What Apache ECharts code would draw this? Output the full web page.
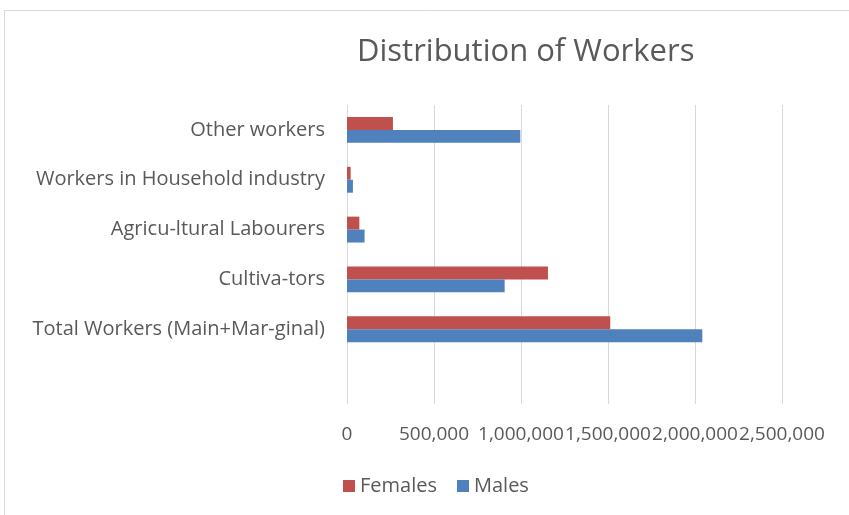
<!DOCTYPE html>
<html><head><meta charset="utf-8">
<script src="https://cdn.jsdelivr.net/npm/echarts@6/dist/echarts.min.js"></script>
<style>html,body{margin:0;padding:0;background:#fff}#c{width:849px;height:515px}</style>
</head><body><div id="c"></div>
<script>
var categories = ["", "Total Workers (Main+Mar-ginal)", "Cultiva-tors", "Agricu-ltural Labourers", "Workers in Household industry", "Other workers"];
var females = [null, 1513000, 1155000, 71000, 21000, 264000];
var males = [null, 2042000, 906000, 101000, 34000, 996000];
var tickMin = 0, tickMax = 2500000, tickStep = 500000;

var FONT = "Open Sans";
var chart = echarts.init(document.getElementById('c'));
chart.setOption({
  animation: false,
  textStyle: {fontFamily: FONT},
  graphic: [{type: 'rect', shape: {x: 4.5, y: 10.5, width: 900, height: 600}, style: {fill: 'none', stroke: '#d9d9d9', lineWidth: 1}, silent: true}],
  title: {text: 'Distribution of Workers', left: 352, top: 32,
    textStyle: {fontFamily: FONT, fontSize: 31, fontWeight: 'normal', color: '#595959'}},
  legend: {data: ['Females', 'Males'], top: 471, left: 338, itemWidth: 12, itemHeight: 12, itemGap: 20,
    textStyle: {fontFamily: FONT, fontSize: 20, color: '#595959'}, icon: 'rect'},
  grid: {left: 347, right: 67, top: 105, bottom: 111, containLabel: false},
  xAxis: {type: 'value', min: tickMin, max: tickMax, interval: tickStep,
    axisLine: {show: false}, axisTick: {show: false},
    splitLine: {lineStyle: {color: '#d9d9d9', width: 1}},
    axisLabel: {margin: 21, fontSize: 19, color: '#595959', fontFamily: FONT, hideOverlap: false, showMinLabel: true, showMaxLabel: true,
      formatter: function(v){ return v.toLocaleString('en-US'); }}},
  yAxis: {type: 'category', data: categories,
    axisLine: {show: false}, axisTick: {show: false},
    axisLabel: {margin: 22, fontSize: 20, color: '#595959', fontFamily: FONT}},
  series: [
    {name: 'Females', type: 'bar', data: females, itemStyle: {color: '#C0504D'}, barGap: '0%', barCategoryGap: '48%'},
    {name: 'Males', type: 'bar', data: males, itemStyle: {color: '#4F81BD'}, barGap: '0%', barCategoryGap: '48%'}
  ]
});
</script></body></html>
